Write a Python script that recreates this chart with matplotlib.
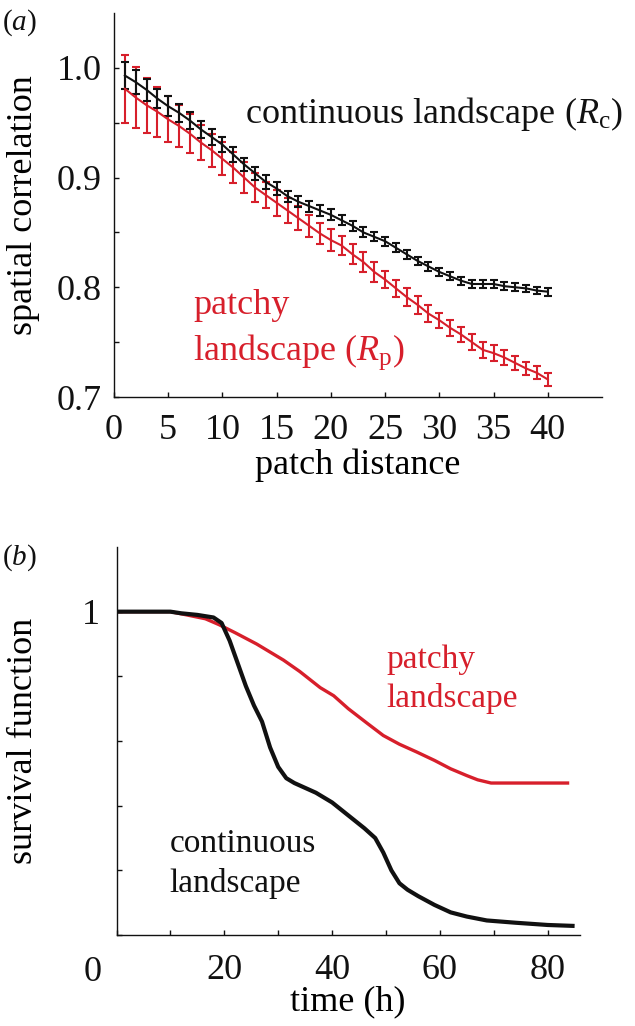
import matplotlib
matplotlib.use("Agg")
import matplotlib.pyplot as plt

plt.rcParams['font.family'] = ['Liberation Serif', 'DejaVu Serif']
plt.rcParams['mathtext.fontset'] = 'custom'
plt.rcParams['mathtext.rm'] = 'Liberation Serif'
plt.rcParams['mathtext.it'] = 'Liberation Serif:italic'

RED = '#d71f2b'
BLACK = '#111111'

# (a) spatial correlation vs patch distance
distance = list(range(1, 41))
rc_mean = [0.993, 0.987, 0.980, 0.972, 0.965, 0.959, 0.952, 0.944, 0.937, 0.930,
           0.921, 0.912, 0.904, 0.896, 0.890, 0.883, 0.878, 0.874, 0.870, 0.866,
           0.861, 0.856, 0.850, 0.846, 0.842, 0.836, 0.830, 0.824, 0.819, 0.814,
           0.810, 0.806, 0.803, 0.803, 0.803, 0.801, 0.800, 0.799, 0.797, 0.796]
rc_err = [0.012, 0.011, 0.010, 0.009, 0.009, 0.008, 0.008, 0.008, 0.007, 0.007,
          0.007, 0.006, 0.006, 0.006, 0.006, 0.005, 0.005, 0.005, 0.005, 0.005,
          0.0045, 0.0045, 0.0045, 0.004, 0.004, 0.004, 0.004, 0.004, 0.004, 0.004,
          0.0035, 0.0035, 0.0035, 0.0035, 0.0035, 0.0035, 0.0035, 0.0035, 0.0035, 0.0035]
rp_mean = [0.981, 0.973, 0.966, 0.960, 0.953, 0.947, 0.940, 0.932, 0.925, 0.917,
           0.909, 0.900, 0.891, 0.884, 0.877, 0.870, 0.863, 0.856, 0.849, 0.843,
           0.838, 0.830, 0.823, 0.814, 0.807, 0.799, 0.791, 0.784, 0.776, 0.770,
           0.763, 0.757, 0.750, 0.743, 0.740, 0.736, 0.731, 0.726, 0.722, 0.716]
rp_err = [0.031, 0.028, 0.025, 0.023, 0.021, 0.019, 0.018, 0.016, 0.015, 0.015,
          0.014, 0.014, 0.013, 0.012, 0.012, 0.011, 0.011, 0.010, 0.010, 0.010,
          0.009, 0.009, 0.009, 0.009, 0.008, 0.008, 0.008, 0.008, 0.008, 0.007,
          0.007, 0.007, 0.007, 0.007, 0.007, 0.007, 0.006, 0.006, 0.006, 0.006]

# (b) survival functions
t_cont = [0, 10, 12, 15, 18, 19.5, 21, 22.5, 24, 25.5, 27, 28.5, 30, 31.5, 33, 35,
          37, 40, 43, 46, 48, 49.5, 51, 52.5, 54, 56, 59, 62, 65, 68.7, 74, 80, 85]
s_cont = [1.0, 1.0, 0.995, 0.99, 0.982, 0.965, 0.91, 0.84, 0.77, 0.71, 0.66, 0.58,
          0.52, 0.485, 0.47, 0.455, 0.44, 0.41, 0.37, 0.33, 0.30, 0.255, 0.20, 0.16,
          0.14, 0.12, 0.093, 0.07, 0.057, 0.045, 0.038, 0.031, 0.028]
t_patch = [0, 10, 13, 16.5, 19, 22, 26, 31, 34, 37.8, 40.3, 43, 46.5, 49.5, 52.5,
           55.7, 59, 62, 65, 67, 69.5, 84]
s_patch = [1.0, 1.0, 0.99, 0.978, 0.96, 0.935, 0.90, 0.85, 0.815, 0.765, 0.74, 0.70,
           0.655, 0.617, 0.59, 0.566, 0.54, 0.514, 0.493, 0.48, 0.47, 0.47]

fig = plt.figure(figsize=(6.35, 10.26), dpi=100)
W, H = 635, 1026

ax1 = fig.add_axes([114 / W, 1 - 397 / H, 488 / W, 384 / H])
ax2 = fig.add_axes([116.5 / W, 1 - 935 / H, 463.5 / W, 388 / H])

for ax in (ax1, ax2):
    ax.spines['top'].set_visible(False)
    ax.spines['right'].set_visible(False)
    for s in ('left', 'bottom'):
        ax.spines[s].set_linewidth(1.0)
        ax.spines[s].set_color(BLACK)
    ax.tick_params(direction='in', length=3.5, width=1.0, labelsize=26, colors=BLACK)

# panel a
ax1.errorbar(distance, rp_mean, yerr=rp_err, color=RED, lw=1.5, elinewidth=1.5,
             capsize=3.2, capthick=1.5)
ax1.errorbar(distance, rc_mean, yerr=rc_err, color=BLACK, lw=1.5, elinewidth=1.5,
             capsize=3.2, capthick=1.5)
ax1.set_xlim(0, 45)
ax1.set_ylim(0.7, 1.05)
ax1.set_xticks(range(0, 41, 5))
ax1.set_yticks([0.7, 0.75, 0.8, 0.85, 0.9, 0.95, 1.0])
ax1.set_yticklabels(['0.7', '', '0.8', '', '0.9', '', '1.0'])
ax1.tick_params(axis='x', pad=12)
ax1.tick_params(axis='y', pad=9)
ax1.set_xlabel('patch distance', fontsize=26)
ax1.set_ylabel('spatial correlation', fontsize=26)
ax1.xaxis.set_label_coords(0.5, -0.135)
ax1.yaxis.set_label_coords(-0.152, 0.5)
ax1.text(12.07, 0.950, r'continuous landscape ($R_{\mathrm{c}}$)', fontsize=26,
         color=BLACK, va='baseline')
ax1.text(7.3, 0.776, 'patchy', fontsize=26, color=RED, va='baseline')
ax1.text(7.3, 0.734, r'landscape ($R_{\mathrm{p}}$)', fontsize=26, color=RED,
         va='baseline')

# panel b
ax2.plot(t_patch, s_patch, color=RED, lw=2.4, solid_capstyle='butt')
ax2.plot(t_cont, s_cont, color=BLACK, lw=3.0, solid_capstyle='butt')
ax2.set_xlim(0, 86)
ax2.set_ylim(0, 1.2)
ax2.set_xticks(range(0, 81, 10))
ax2.set_xticklabels(['', '', '20', '', '40', '', '60', '', '80'])
ax2.set_yticks([0, 0.2, 0.4, 0.6, 0.8, 1.0])
ax2.set_yticklabels(['', '', '', '', '', '1'])
ax2.tick_params(axis='x', pad=14)
ax2.tick_params(axis='y', pad=12)
ax2.text(-0.051, -0.055, '0', transform=ax2.transAxes, fontsize=26, color=BLACK,
         ha='center', va='top')
ax2.set_xlabel('time (h)', fontsize=26)
ax2.set_ylabel('survival function', fontsize=26)
ax2.xaxis.set_label_coords(0.5, -0.13)
ax2.yaxis.set_label_coords(-0.165, 0.5)
ax2.text(50.0, 0.827, 'patchy', fontsize=24, color=RED, va='baseline')
ax2.text(50.0, 0.704, 'landscape', fontsize=24, color=RED, va='baseline')
ax2.text(9.9, 0.257, 'continuous', fontsize=24, color=BLACK, va='baseline')
ax2.text(9.9, 0.134, 'landscape', fontsize=24, color=BLACK, va='baseline')

fig.text(2 / W, 1 - 23 / H, r'($a$)', fontsize=21, color=BLACK, va='center')
fig.text(2 / W, 1 - 558 / H, r'($b$)', fontsize=21, color=BLACK, va='center')

fig.savefig('out.png', dpi=100)
